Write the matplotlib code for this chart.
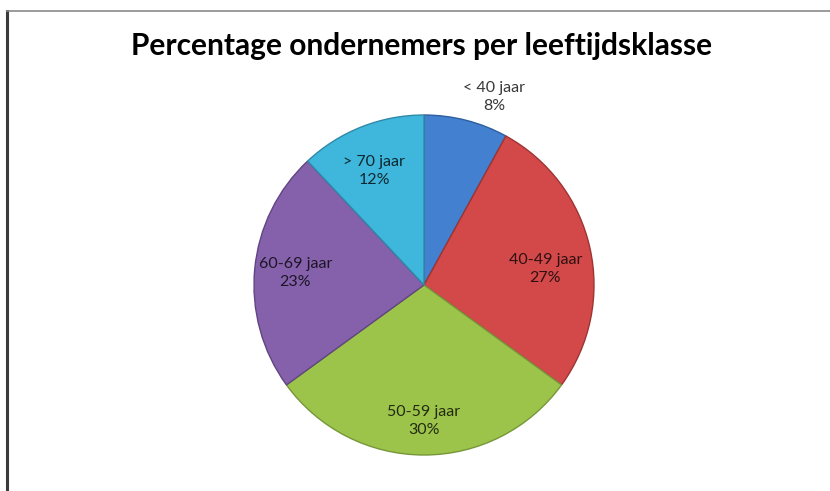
import matplotlib
matplotlib.use('Agg')
import matplotlib.pyplot as plt
import numpy as np
from matplotlib.lines import Line2D

# data
categories = ['< 40 jaar', '40-49 jaar', '50-59 jaar', '60-69 jaar', '> 70 jaar']
percentages = [8, 27, 30, 23, 12]
colors = ['#4380cf', '#d3494a', '#9dc44a', '#8561ab', '#3fb6db']
edge_colors = ['#2f5f9e', '#9e3432', '#76963a', '#614582', '#2e8aa8']

# label placement (fraction of radius, angle shift in degrees)
label_radius = [1.18, 0.72, 0.80, 0.76, 0.73]
label_shift = [-6, -5, 0, 0, 2]

W, H = 830, 491
fig = plt.figure(figsize=(W / 100, H / 100), dpi=100)
ax = fig.add_axes([0, 0, 1, 1])

cx, cy, r = 424, H - 285, 170
wedges, _ = ax.pie(percentages, colors=colors, startangle=90, counterclock=False,
                   center=(cx, cy), radius=r, frame=True,
                   wedgeprops=dict(linewidth=1.0))
for w, ec in zip(wedges, edge_colors):
    w.set_edgecolor(ec)
ax.set_xlim(0, W)
ax.set_ylim(0, H)
ax.set_aspect('equal')
ax.axis('off')

for w, cat, pct, rf, sh in zip(wedges, categories, percentages, label_radius, label_shift):
    ang = np.deg2rad((w.theta1 + w.theta2) / 2 + sh)
    x = cx + rf * r * np.cos(ang)
    y = cy + rf * r * np.sin(ang)
    ax.text(x, y, f'{cat}\n{pct}%', ha='center', va='center', fontsize=11.5,
            family='Lato', color='black', alpha=0.78, linespacing=1.35)

fig.text(422 / W, 1 - 46 / H, 'Percentage ondernemers per leeftijdsklasse',
         ha='center', va='center', fontsize=21.5, fontweight='bold', family='Lato',
         color='black')

# frame lines (left and top only)
fig.add_artist(Line2D([7 / W, 7 / W], [0, 1 - 11 / H], color='#3a3a3a', lw=2.2,
                      transform=fig.transFigure))
fig.add_artist(Line2D([7 / W, 1], [1 - 11 / H, 1 - 11 / H], color='#8a8a8a', lw=1.2,
                      transform=fig.transFigure))

fig.savefig('out.png', dpi=100, facecolor='white')
